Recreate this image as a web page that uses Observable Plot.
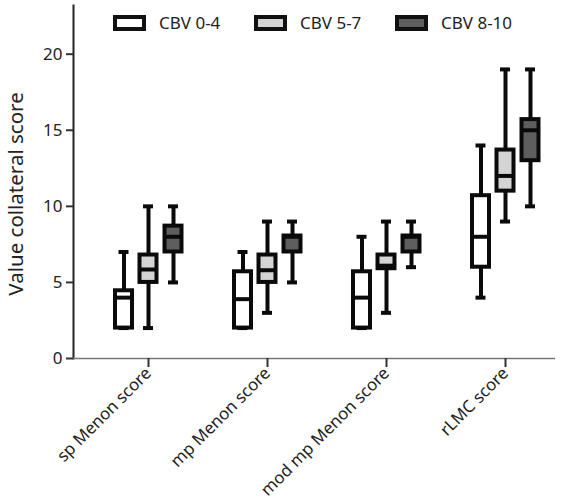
<!DOCTYPE html>
<html>
<head>
<meta charset="utf-8">
<script src="https://cdn.jsdelivr.net/npm/d3@7"></script>
<script src="https://cdn.jsdelivr.net/npm/@observablehq/plot@0.6"></script>
<style>
  html, body { margin: 0; padding: 0; background: #fff; }
  #wrap { position: relative; width: 562px; height: 502px; font-family: "Noto Sans", sans-serif; }
  #legend { position: absolute; top: 11px; left: 113px; display: flex; }
  .item { display: flex; align-items: center; width: 141px; font-size: 17px; color: #222; }
  .sw { width: 25px; height: 8px; border: 4px solid #111; margin-right: 13px; }
</style>
</head>
<body>
<div id="wrap"><div id="legend"></div></div>
<script>
// ---- data ----
const categories = ["sp Menon score", "mp Menon score", "mod mp Menon score", "rLMC score"];
const seriesNames = ["CBV 0-4", "CBV 5-7", "CBV 8-10"];
const seriesColors = ["#ffffff", "#d4d4d4", "#5e5e5e"];
// [min, q1, median, q3, max] per category
const cbv04 = [[2, 2, 4, 4.45, 7], [2, 2, 3.9, 5.7, 7], [2, 2, 4, 5.7, 8], [4, 6, 8, 10.7, 14]];
const cbv57 = [[2, 5, 5.85, 6.8, 10], [3, 5, 5.8, 6.8, 9], [3, 5.9, 6.1, 6.8, 9], [9, 11, 12, 13.7, 19]];
const cbv810 = [[5, 7, 8, 8.7, 10], [5, 7, 8, 8.05, 9], [6, 7, 8, 8.05, 9], [10, 13, 15, 15.7, 19]];
const yTicks = [0, 5, 10, 15, 20];
const yLabel = "Value collateral score";

const seriesValues = [cbv04, cbv57, cbv810];
const offsets = [-24.5, 0, 25];

const rows = seriesValues.map((vals) => vals.map((v, i) => ({
  cat: categories[i], min: v[0], q1: v[1], med: v[2], q3: v[3], max: v[4]
})));

const marks = [];
rows.forEach((data, k) => {
  const dx = offsets[k];
  const ink = {stroke: "#0a0a0a", strokeWidth: 4, dx};
  marks.push(
    Plot.ruleX(data, {x: "cat", y1: "min", y2: "max", ...ink}),
    Plot.ruleY(data, {x1: "cat", x2: "cat", y: "min", insetLeft: -5, insetRight: -5, ...ink}),
    Plot.ruleY(data, {x1: "cat", x2: "cat", y: "max", insetLeft: -5, insetRight: -5, ...ink}),
    Plot.rect(data, {x1: "cat", x2: "cat", y1: "q1", y2: "q3", fill: seriesColors[k], insetLeft: -8.5, insetRight: -8.5, ...ink}),
    Plot.ruleY(data, {x1: "cat", x2: "cat", y: "med", insetLeft: -8.5, insetRight: -8.5, ...ink})
  );
});

const chart = Plot.plot({
  width: 562,
  height: 502,
  marginTop: 5,
  marginLeft: 73,
  marginRight: 7,
  marginBottom: 144,
  style: {fontFamily: "Noto Sans, sans-serif", background: "transparent", color: "#222"},
  x: {type: "point", domain: categories, range: [147, 506], padding: 0},
  y: {domain: [0, 23.2]},
  marks: [
    Plot.frame({anchor: "left", stroke: "#222", strokeWidth: 2}),
    Plot.ruleY([0], {stroke: "#777", strokeWidth: 1.5}),
    Plot.axisY({ticks: yTicks, tickSize: 7, strokeWidth: 2, stroke: "#333", fontSize: 17, tickPadding: 4, label: null}),
    Plot.text([yLabel], {frameAnchor: "left", rotate: -90, textAnchor: "middle", lineAnchor: "middle", dx: -57, dy: 12, fontSize: 20.5, fill: "#222"}),
    Plot.axisX({tickRotate: -45, tickSize: 9, strokeWidth: 2, stroke: "#333", fontSize: 16.8, tickPadding: 3, label: null}),
    ...marks
  ]
});

document.getElementById("wrap").prepend(chart);
chart.style.position = "absolute";
chart.style.left = "0";
chart.style.top = "0";

const legend = document.getElementById("legend");
seriesNames.forEach((name, k) => {
  const item = document.createElement("div");
  item.className = "item";
  const sw = document.createElement("div");
  sw.className = "sw";
  sw.style.background = seriesColors[k];
  const t = document.createElement("span");
  t.textContent = name;
  item.append(sw, t);
  legend.append(item);
});
</script>
</body>
</html>
